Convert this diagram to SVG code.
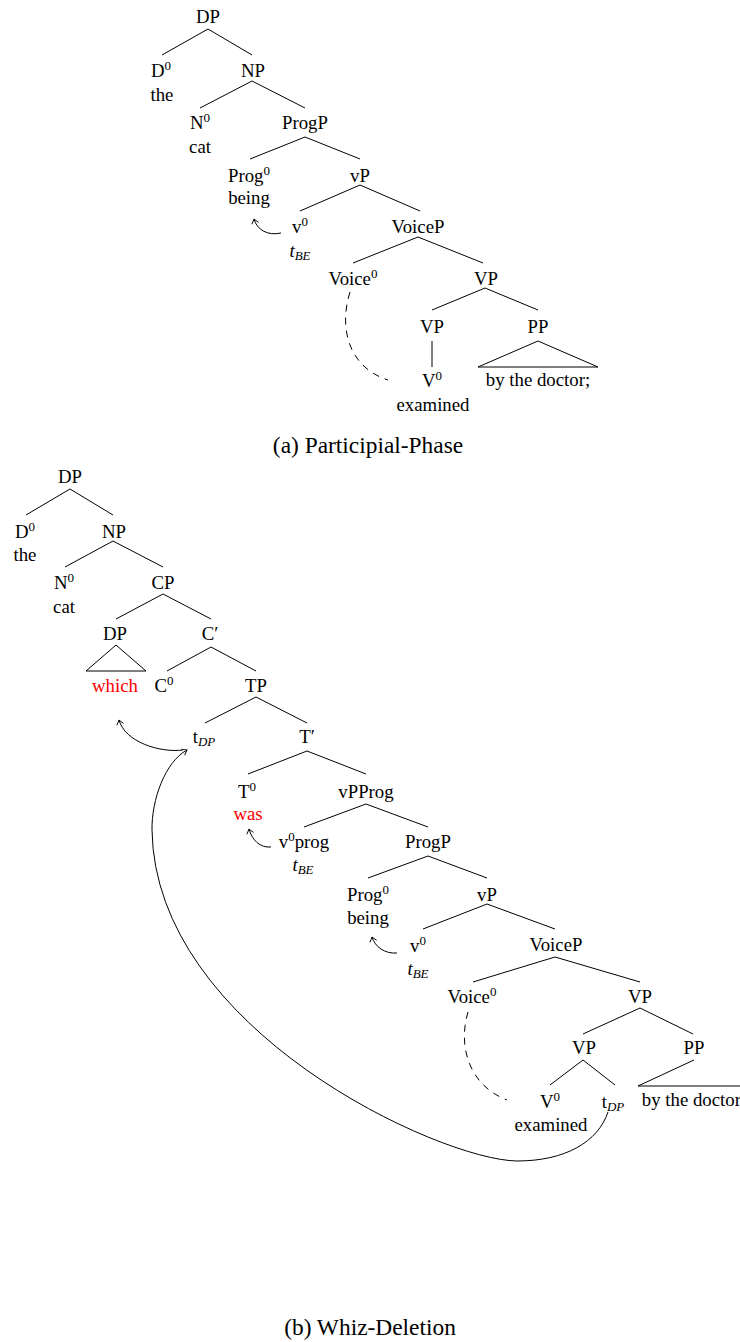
<svg xmlns="http://www.w3.org/2000/svg" width="740" height="1342" viewBox="0 0 740 1342">
<style>
text { font-family: "Liberation Serif", "Times New Roman", serif; font-size: 18.8px; text-anchor: middle; fill: #000; }
.s { font-size: 13px; }
.sub { font-size: 13px; font-style: italic; }
.it { font-style: italic; }
.red { fill: #ff0000; }
.cap { font-size: 23.4px; }
.e { stroke: #000; stroke-width: 1; fill: none; }
.dash { stroke-dasharray: 7 6; }
</style>
<defs>
<marker id="ah" viewBox="-6 -5 8 10" markerWidth="8" markerHeight="10" refX="0" refY="0" orient="auto" markerUnits="userSpaceOnUse">
<path d="M-4.5,-3.5 Q-1.5,-1 0,0 Q-1.5,1 -4.5,3.5" fill="none" stroke="#000" stroke-width="0.9"/>
</marker>
</defs>
<rect width="740" height="1342" fill="#fff"/>

<!-- ===== (a) Participial-Phase ===== -->
<g id="a-connectors" class="e">
<path d="M208,29 L162,55 M208,29 L252,55"/>
<path d="M252,81 L200,108 M252,81 L305,108"/>
<path d="M305,137 L250,159 M305,137 L360,159"/>
<path d="M360,185 L300,211 M360,185 L420,211"/>
<path d="M418,237 L353,263 M418,237 L483,263"/>
<path d="M485,288 L432,310 M485,288 L538,310"/>
<path d="M432,341 L432,367"/>
<path d="M538,341 L478,367 L598,367 Z"/>
<path d="M281,233 C268,236 257,230 254,219" marker-end="url(#ah)"/>
<path class="dash" d="M350,292 C338,330 350,368 388,380"/>
</g>
<g id="a-DP"><text x="208" y="23">DP</text></g>
<g id="a-D0"><text x="161" y="77">D<tspan class="s" dy="-7">0</tspan></text><text x="162" y="101">the</text></g>
<g id="a-NP"><text x="253" y="77">NP</text></g>
<g id="a-N0"><text x="200" y="129">N<tspan class="s" dy="-7">0</tspan></text><text x="200" y="153">cat</text></g>
<g id="a-ProgP"><text x="305" y="129">ProgP</text></g>
<g id="a-Prog0"><text x="249" y="182">Prog<tspan class="s" dy="-7">0</tspan></text><text x="249" y="204">being</text></g>
<g id="a-vP"><text x="360" y="182">vP</text></g>
<g id="a-v0"><text x="300" y="233">v<tspan class="s" dy="-7">0</tspan></text><text x="300" y="257"><tspan class="it">t</tspan><tspan class="sub" dy="3">BE</tspan></text></g>
<g id="a-VoiceP"><text x="418" y="233">VoiceP</text></g>
<g id="a-Voice0"><text x="353" y="285">Voice<tspan class="s" dy="-7">0</tspan></text></g>
<g id="a-VP1"><text x="486" y="285">VP</text></g>
<g id="a-VP2"><text x="432" y="333">VP</text></g>
<g id="a-PP"><text x="538" y="333">PP</text></g>
<g id="a-V0"><text x="432" y="387">V<tspan class="s" dy="-7">0</tspan></text><text x="433" y="411">examined</text></g>
<g id="a-PPtext"><text x="538" y="386">by the doctor;</text></g>
<g id="a-caption"><text class="cap" x="368" y="453">(a) Participial-Phase</text></g>

<!-- ===== (b) Whiz-Deletion ===== -->
<g id="b-connectors" class="e">
<path d="M70,489 L26,515 M70,489 L113,515"/>
<path d="M113,541 L65,567 M113,541 L163,567"/>
<path d="M163,594 L116,619 M163,594 L211,619"/>
<path d="M116,645 L86,671 L146,671 Z"/>
<path d="M211,647 L167,671 M211,647 L256,671"/>
<path d="M256,697 L205,723 M256,697 L307,723"/>
<path d="M307,751 L248,774 M307,751 L366,774"/>
<path d="M366,804 L304,827 M366,804 L428,827"/>
<path d="M428,856 L368,878 M428,856 L487,878"/>
<path d="M487,904 L423,929 M487,904 L555,929"/>
<path d="M555,957 L473,982 M555,957 L640,982"/>
<path d="M640,1008 L583,1034 M640,1008 L693,1034"/>
<path d="M583,1060 L550,1085 M583,1060 L615,1085"/>
<path d="M694,1060 L638,1086 L750,1086"/>
<path d="M271,847 C260,848 252,840 249,829" marker-end="url(#ah)"/>
<path d="M397,953 C385,954 375,947 372,937" marker-end="url(#ah)"/>
<path d="M183,750 C160,753 125,742 119,720" marker-end="url(#ah)"/>
<path d="M608,1112 C598,1142 565,1161 517,1161 C440,1160 155,1030 152,830 C151.5,800 165,762 187,750" marker-end="url(#ah)"/>
<path class="dash" d="M468,1012 C458,1045 468,1085 507,1100"/>
</g>
<g id="b-DP"><text x="70" y="483">DP</text></g>
<g id="b-D0"><text x="25" y="538">D<tspan class="s" dy="-7">0</tspan></text><text x="25" y="561">the</text></g>
<g id="b-NP"><text x="114" y="538">NP</text></g>
<g id="b-N0"><text x="64" y="589">N<tspan class="s" dy="-7">0</tspan></text><text x="64" y="613">cat</text></g>
<g id="b-CP"><text x="163" y="589">CP</text></g>
<g id="b-DP2"><text x="115" y="640">DP</text><text class="red" x="115" y="692">which</text></g>
<g id="b-Cbar"><text x="210" y="640">C′</text></g>
<g id="b-C0"><text x="164" y="692">C<tspan class="s" dy="-7">0</tspan></text></g>
<g id="b-TP"><text x="256" y="692">TP</text></g>
<g id="b-tDP1"><text x="204" y="743">t<tspan class="sub" dy="3">DP</tspan></text></g>
<g id="b-Tbar"><text x="307" y="743">T′</text></g>
<g id="b-T0"><text x="247" y="798">T<tspan class="s" dy="-7">0</tspan></text><text class="red" x="248" y="820">was</text></g>
<g id="b-vPProg"><text x="366" y="798">vPProg</text></g>
<g id="b-v0prog"><text x="304" y="848">v<tspan class="s" dy="-7">0</tspan><tspan dy="7">prog</tspan></text><text x="303" y="871"><tspan class="it">t</tspan><tspan class="sub" dy="3">BE</tspan></text></g>
<g id="b-ProgP"><text x="428" y="848">ProgP</text></g>
<g id="b-Prog0"><text x="368" y="901">Prog<tspan class="s" dy="-7">0</tspan></text><text x="368" y="924">being</text></g>
<g id="b-vP"><text x="487" y="901">vP</text></g>
<g id="b-v0"><text x="418" y="952">v<tspan class="s" dy="-7">0</tspan></text><text x="418" y="975"><tspan class="it">t</tspan><tspan class="sub" dy="3">BE</tspan></text></g>
<g id="b-VoiceP"><text x="556" y="951">VoiceP</text></g>
<g id="b-Voice0"><text x="472" y="1003">Voice<tspan class="s" dy="-7">0</tspan></text></g>
<g id="b-VP1"><text x="640" y="1003">VP</text></g>
<g id="b-VP2"><text x="584" y="1054">VP</text></g>
<g id="b-PP"><text x="694" y="1054">PP</text></g>
<g id="b-V0"><text x="550" y="1108">V<tspan class="s" dy="-7">0</tspan></text><text x="551" y="1131">examined</text></g>
<g id="b-tDP2"><text x="613" y="1108">t<tspan class="sub" dy="3">DP</tspan></text></g>
<g id="b-PPtext"><text x="694" y="1106">by the doctor;</text></g>
<g id="b-caption"><text class="cap" x="370" y="1335">(b) Whiz-Deletion</text></g>
</svg>
